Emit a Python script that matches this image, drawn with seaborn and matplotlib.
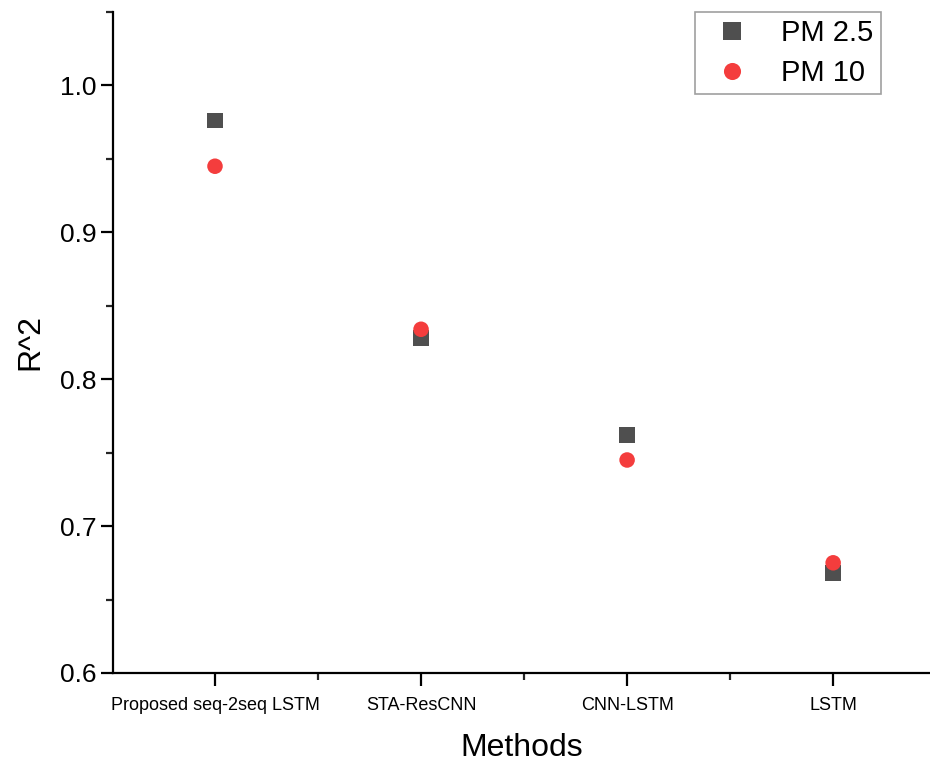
import pandas as pd
import matplotlib
matplotlib.use("Agg")
import matplotlib.pyplot as plt
from matplotlib.ticker import MultipleLocator, FixedLocator
import seaborn as sns

# values
methods = ["Proposed seq-2seq LSTM", "STA-ResCNN", "CNN-LSTM", "LSTM"]
pm25 = [0.976, 0.828, 0.762, 0.668]
pm10 = [0.945, 0.834, 0.745, 0.675]

df = pd.DataFrame({
    "method": methods * 2,
    "r2": pm25 + pm10,
    "series": ["PM 2.5"] * 4 + ["PM 10"] * 4,
})

sns.set_theme(style="white")
plt.rcParams["font.family"] = ["Liberation Sans", "DejaVu Sans"]
plt.rcParams["text.color"] = "black"
plt.rcParams["axes.labelcolor"] = "black"

fig = plt.figure(figsize=(9.3, 7.65), dpi=100)
ax = fig.add_axes([0.1215, 0.1203, 0.8785, 0.864])

sns.scatterplot(data=df, x="method", y="r2", hue="series", style="series",
                palette={"PM 2.5": "#4f4f4f", "PM 10": "#f43d3d"},
                markers={"PM 2.5": "s", "PM 10": "o"},
                s=125, linewidth=0, ax=ax)

ax.set_ylim(0.6, 1.05)
ax.set_xlim(-0.495, 3.47)
ax.yaxis.set_major_locator(MultipleLocator(0.1))
ax.yaxis.set_minor_locator(MultipleLocator(0.05))
ax.xaxis.set_minor_locator(FixedLocator([0.5, 1.5, 2.5]))
ax.yaxis.set_major_formatter(matplotlib.ticker.FormatStrFormatter("%.1f"))

for side in ["top", "right"]:
    ax.spines[side].set_visible(False)
for side in ["left", "bottom"]:
    ax.spines[side].set_linewidth(1.6)
    ax.spines[side].set_color("black")

ax.tick_params(axis="y", which="major", direction="out", length=9, width=1.6,
               labelsize=19, colors="black", pad=3, left=True)
ax.tick_params(axis="y", which="minor", direction="out", length=5, width=1.6, left=True)
ax.tick_params(axis="x", which="major", direction="out", length=9, width=1.6,
               labelsize=13, colors="black", pad=8, bottom=True)
ax.tick_params(axis="x", which="minor", direction="out", length=5, width=1.6, bottom=True)

ax.set_xlabel("Methods", fontsize=23, labelpad=14)
ax.set_ylabel("R^2", fontsize=23, labelpad=10)

leg = ax.legend(loc="upper right", bbox_to_anchor=(0.94, 1.0), borderaxespad=0,
                fontsize=21, frameon=True, fancybox=False, title=None,
                markerscale=1.1, handletextpad=0.7, borderpad=0.25,
                labelspacing=0.4, handlelength=2.0)
leg.get_frame().set_edgecolor("#888888")
leg.get_frame().set_linewidth(1.2)

fig.savefig("out.png", dpi=100)
